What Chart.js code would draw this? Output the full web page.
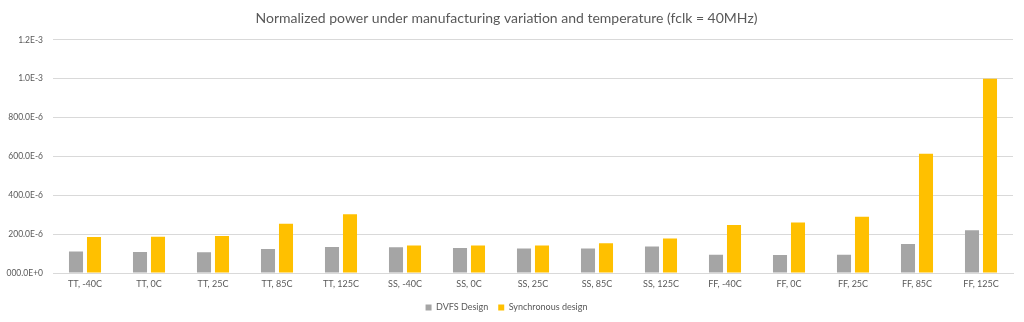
<!DOCTYPE html>
<html>
<head>
<meta charset="utf-8">
<script src="https://cdn.jsdelivr.net/npm/chart.js@4/dist/chart.umd.min.js"></script>
<style>
  html, body { margin: 0; padding: 0; background: #ffffff; }
  #wrap { width: 1024px; height: 322px; position: relative; }
</style>
</head>
<body>
<div id="wrap"><canvas id="c" width="1024" height="322"></canvas></div>
<script>
// Process corners and temperatures
const categories = [
  "TT, -40C", "TT, 0C", "TT, 25C", "TT, 85C", "TT, 125C",
  "SS, -40C", "SS, 0C", "SS, 25C", "SS, 85C", "SS, 125C",
  "FF, -40C", "FF, 0C", "FF, 25C", "FF, 85C", "FF, 125C"
];

// Normalized power per corner
const dvfsPower = [
  110e-6, 108e-6, 107e-6, 124e-6, 134e-6,
  133e-6, 129e-6, 126e-6, 126e-6, 136e-6,
  94e-6, 93e-6, 94e-6, 149e-6, 220e-6
];
const syncPower = [
  185e-6, 186e-6, 191e-6, 253e-6, 302e-6,
  141e-6, 141e-6, 141e-6, 153e-6, 178e-6,
  247e-6, 260e-6, 289e-6, 613e-6, 1000e-6
];

// Y axis ticks and their engineering-format labels
const yTickValues = [0, 200e-6, 400e-6, 600e-6, 800e-6, 1.0e-3, 1.2e-3];
const yTickLabels = ["000.0E+0", "200.0E-6", "400.0E-6", "600.0E-6", "800.0E-6", "1.0E-3", "1.2E-3"];

const seriesNames = ["DVFS Design", "Synchronous design"];
const titleText = "Normalized power under manufacturing variation and temperature (fclk = 40MHz)";

const FONT = "Lato, 'Open Sans', sans-serif";
const TEXT = "#595959";
const GRID = "#d9d9d9";

new Chart(document.getElementById("c"), {
  type: "bar",
  data: {
    labels: categories,
    datasets: [
      {
        label: seriesNames[0],
        data: dvfsPower,
        backgroundColor: "#a5a5a5",
        categoryPercentage: 0.5625,
        barPercentage: 0.78
      },
      {
        label: seriesNames[1],
        data: syncPower,
        backgroundColor: "#ffc000",
        categoryPercentage: 0.5625,
        barPercentage: 0.78
      }
    ]
  },
  options: {
    responsive: false,
    animation: false,
    devicePixelRatio: 1,
    layout: { padding: { left: 0, right: 11, top: 0, bottom: 0 } },
    plugins: {
      title: {
        display: true,
        text: titleText,
        color: TEXT,
        font: { family: FONT, size: 14, weight: "normal" },
        padding: { top: 10, bottom: 13 }
      },
      legend: {
        display: true,
        position: "bottom",
        labels: {
          color: TEXT,
          font: { family: FONT, size: 9 },
          boxWidth: 6,
          boxHeight: 6,
          padding: 10
        }
      },
      tooltip: { enabled: false }
    },
    scales: {
      x: {
        afterFit: (scale) => { scale.height = 20; },
        grid: { display: false, drawTicks: false },
        border: { display: true, color: GRID, width: 1 },
        ticks: {
          color: TEXT,
          font: { family: FONT, size: 9 },
          padding: 6,
          maxRotation: 0,
          autoSkip: false
        }
      },
      y: {
        min: 0,
        max: 1.2e-3,
        afterBuildTicks: (scale) => {
          scale.ticks = yTickValues.map(v => ({ value: v }));
        },
        afterFit: (scale) => { scale.width = 53; },
        grid: { color: GRID, lineWidth: 1, drawTicks: false },
        border: { display: false },
        ticks: {
          color: TEXT,
          font: { family: FONT, size: 8.5 },
          padding: 10,
          callback: (value, index) => yTickLabels[index]
        }
      }
    }
  }
});
</script>
</body>
</html>
